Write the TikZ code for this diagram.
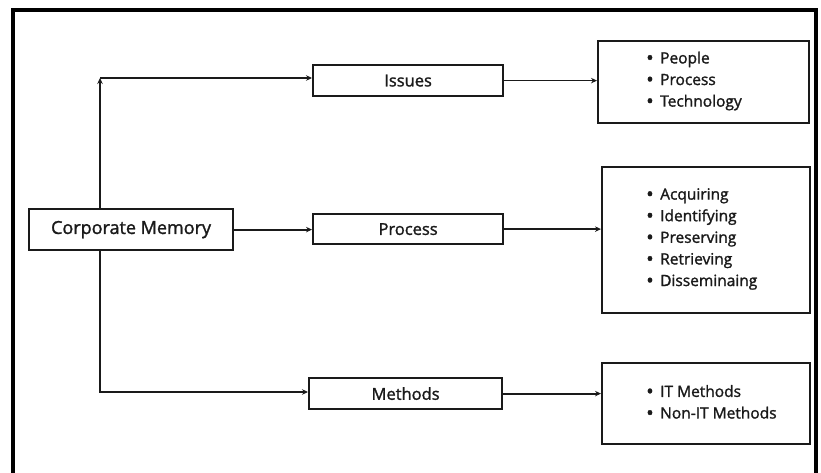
\documentclass[tikz,border=0pt]{standalone}
\usepackage{fontspec}
\setmainfont{Open Sans}[FakeBold=1.5]
\usetikzlibrary{arrows.meta,calc}
\definecolor{ink}{HTML}{1A1A1A}
\newcommand{\itm}{\makebox[14pt][l]{\raisebox{-1.4pt}{\fontsize{20}{0}\selectfont\textbullet}}}
\tikzset{
  x=1pt, y=-1pt,
  box/.style={draw=ink, line width=2.2pt, inner sep=0pt, anchor=north west, text=ink},
  arr/.style={draw=ink, line width=1.8pt, -{Stealth[length=6pt,width=5.5pt]}},
  list/.style={anchor=west, align=left, inner sep=0pt, text=ink, font=\fontsize{15.5}{21.6}\selectfont},
}
\begin{document}
\begin{tikzpicture}
\useasboundingbox (0,0) rectangle (821,473);
% outer frame (bottom edge lies outside the page)
\draw[line width=4pt, black] (13,480) -- (13,10) -- (816,10) -- (816,480);

% main boxes
\node[box, minimum width=204pt, minimum height=41pt, font=\fontsize{18}{20}\selectfont] (cm) at (28,208) {Corporate Memory};
\node[box, minimum width=190pt, minimum height=31pt, font=\fontsize{16.5}{18}\selectfont] (issues) at (312,64) {Issues};
\node[box, minimum width=190pt, minimum height=30pt, font=\fontsize{16.5}{18}\selectfont] (process) at (312,213) {Process};
\node[box, minimum width=193pt, minimum height=31pt, font=\fontsize{16.5}{18}\selectfont] (methods) at (308,377) {Methods};

% detail boxes
\node[box, minimum width=211pt, minimum height=82pt] (issbox) at (597,40) {};
\node[box, minimum width=208pt, minimum height=146pt] (probox) at (601,166) {};
\node[box, minimum width=208pt, minimum height=81pt] (metbox) at (601,362) {};

\node[list] (isslist) at (646,81) {\itm People\\\itm Process\\\itm Technology};
\node[list] (prolist) at (646,239) {\itm Acquiring\\\itm Identifying\\\itm Preserving\\\itm Retrieving\\\itm Disseminaing};
\node[list] (metlist) at (646,402.5) {\itm IT Methods\\\itm Non-IT Methods};

% connectors
\coordinate (up) at (100,78);
\coordinate (down) at (100,392);
\draw[arr] (cm.north -| up) -- (up);
\draw[arr] (up) -- (up -| issues.west);
\draw[arr] (cm.south -| down) -- (down) -- (down -| methods.west);
\draw[arr] (cm.east) -- (cm.east -| process.west);
\draw[arr] (issues.east) -- (issues.east -| issbox.west);
\draw[arr] (process.east) -- (process.east -| probox.west);
\draw[arr] (methods.east) -- (methods.east -| metbox.west);
\end{tikzpicture}
\end{document}
